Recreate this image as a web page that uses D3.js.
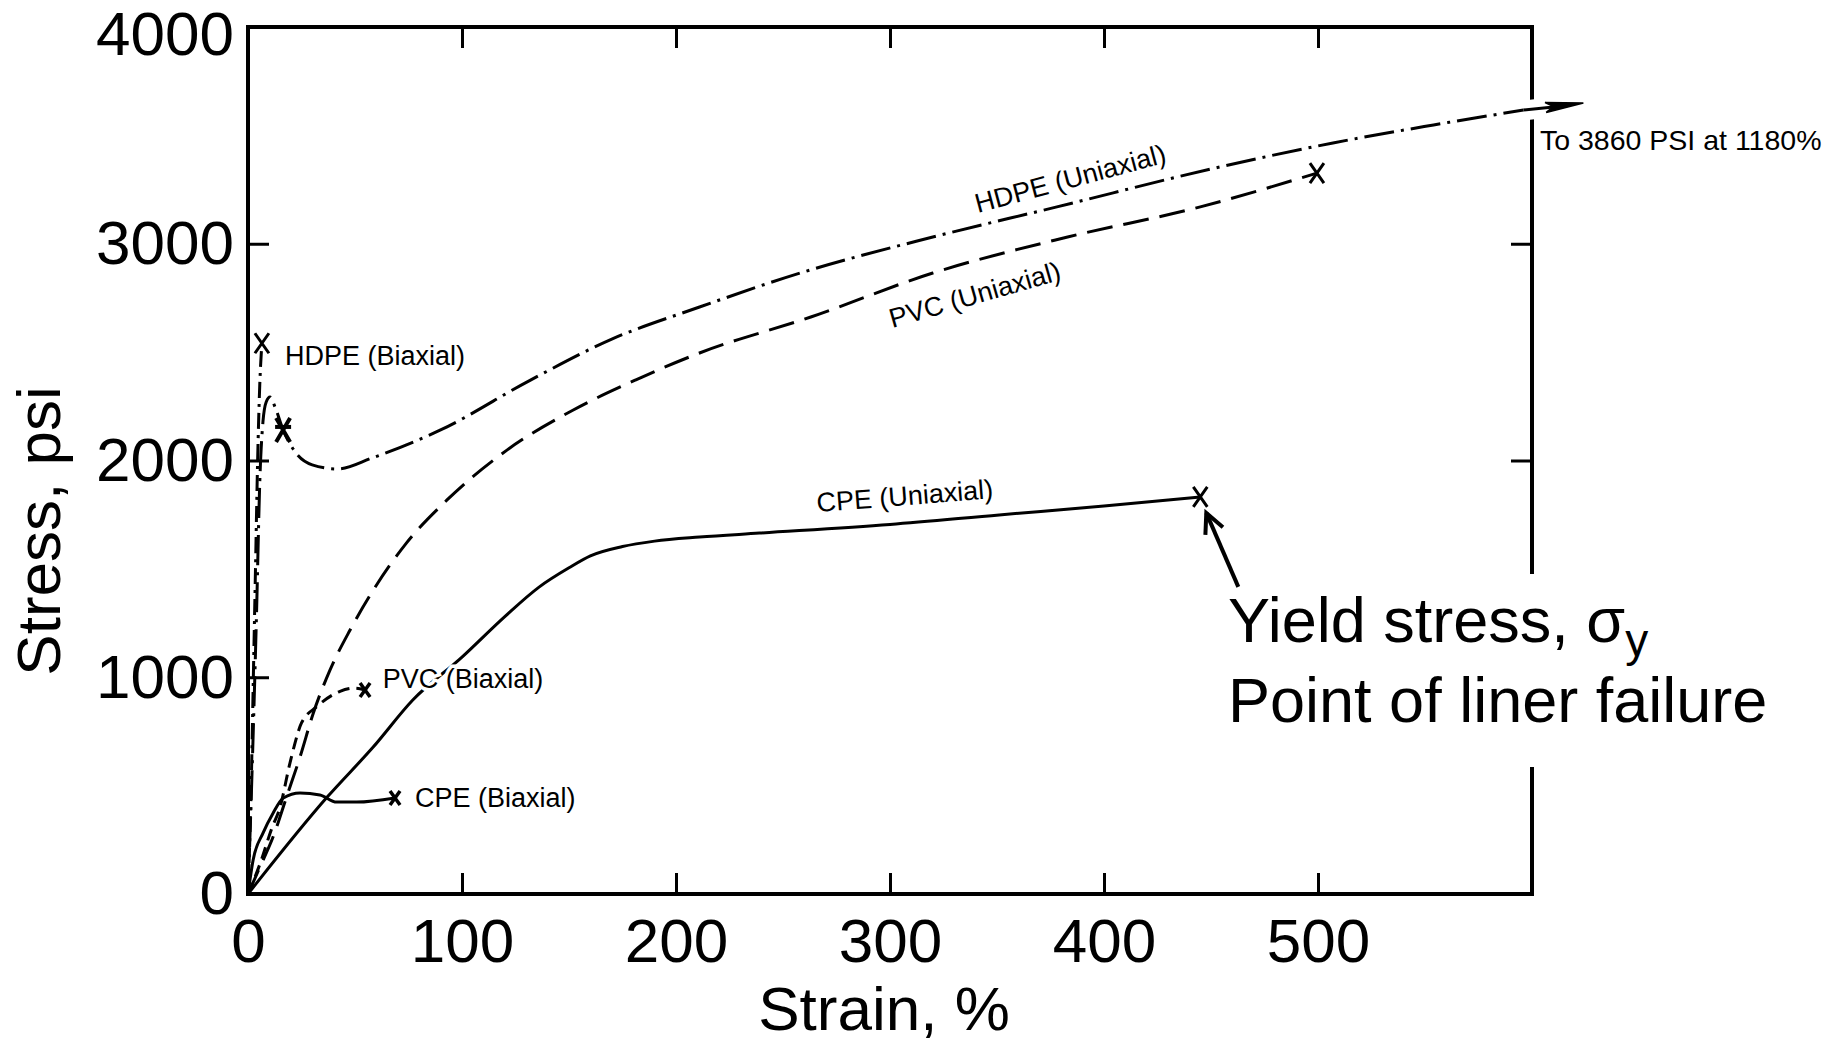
<!DOCTYPE html>
<html>
<head>
<meta charset="utf-8">
<script src="https://cdn.jsdelivr.net/npm/d3@7"></script>
<style>
  html, body { margin: 0; padding: 0; background: #fff; }
  svg text { font-family: "Liberation Sans", Arial, Helvetica, sans-serif; fill: #000; }
</style>
</head>
<body>
<div id="chart"></div>
<script>
const width = 1837;
const height = 1043;

// axis ticks
const strainTicks = [0, 100, 200, 300, 400, 500];
const stressTicks = [0, 1000, 2000, 3000, 4000];
const innerStrainTicks = [100, 200, 300, 400, 500];
const innerStressTicks = [1000, 2000, 3000];

// curves: [strain %, stress psi]
const hdpeUniaxial = [[0,0],[2,600],[4,1300],[5.5,1900],[7,2180],[8.5,2270],[10.3,2293],[12.5,2250],[16.4,2141],[22,2040],[30,1980],[41.6,1961],[58,2012],[90,2141],[132,2371],[170,2560],[211,2708],[258,2865],[320,3031],[378,3170],[450,3345],[507,3465],[554,3548],[596,3617]];
const hdpeUniaxialTail = [[596,3617],[624,3649]];   // continues "to 3860 psi at 1180%"
const hdpeBiaxial = [[0,0],[1.5,500],[2.5,1000],[3.5,1500],[4.5,2000],[5.5,2350],[6.5,2541]];
const pvcUniaxial = [[0,0],[5.6,125],[11.7,263],[18,447],[24.3,632],[30.5,834],[38.3,1033],[47.7,1218],[58.6,1403],[74,1619],[93,1818],[121,2048],[152,2233],[181,2371],[211,2496],[263,2662],[320,2865],[383,3031],[445,3170],[499.5,3326]];
const pvcBiaxial = [[0,0],[6,150],[11,300],[15,401],[19.6,604],[25,789],[32,863],[43,935],[50,950],[54.7,941]];
const cpeUniaxial = [[0,0],[37,447],[58.5,678],[77,895],[100,1093],[120,1280],[136,1416],[150,1505],[160,1560],[175,1603],[190,1628],[211,1647],[239,1665],[300,1705],[351,1749],[400,1790],[445,1832]];
const cpeBiaxial = [[0,0],[2.4,157],[7,281],[11.7,373],[16.5,443],[24.3,466],[33.6,457],[41.4,424],[50.8,424],[68.7,443]];

// failure points
const failurePoints = [[6.5,2541],[445,1832],[499.5,3326]];
const smallFailurePoints = [[54.7,941],[68.7,443]];
const hdpeYieldPoint = [16.4,2141];

const curveLabels = [
  {text: "HDPE (Biaxial)",  s: 17.3,  v: 2441, angle: 0},
  {text: "PVC (Biaxial)",   s: 63,    v: 950,  angle: 0},
  {text: "CPE (Biaxial)",   s: 78,    v: 401,  angle: 0},
  {text: "CPE (Uniaxial)",  s: 266,   v: 1762, angle: -4.5},
  {text: "PVC (Uniaxial)",  s: 301,   v: 2611, angle: -16},
  {text: "HDPE (Uniaxial)", s: 341,   v: 3142, angle: -15}
];

const svg = d3.select("#chart")
  .append("svg")
  .attr("width", width)
  .attr("height", height);

svg.append("rect").attr("width", width).attr("height", height).attr("fill", "#fff");

const x = d3.scaleLinear().domain([0, 600]).range([248, 1532]);
const y = d3.scaleLinear().domain([0, 4000]).range([894, 27]);

// frame
svg.append("rect")
  .attr("x", x(0)).attr("y", y(4000))
  .attr("width", x(600) - x(0)).attr("height", y(0) - y(4000))
  .attr("fill", "none").attr("stroke", "#000").attr("stroke-width", 4);

function styleAxis(g) {
  g.select(".domain").remove();
  g.selectAll(".tick line").attr("stroke", "#000").attr("stroke-width", 3);
  g.selectAll(".tick text")
    .attr("font-size", 62)
    .attr("font-family", "'Liberation Sans', Arial, sans-serif")
    .attr("fill", "#000");
}

svg.append("g")
  .attr("transform", "translate(0," + y(0) + ")")
  .call(d3.axisBottom(x).tickValues(strainTicks).tickSize(-21).tickSizeOuter(0).tickPadding(24).tickFormat(d3.format("d")))
  .call(styleAxis);

svg.append("g")
  .attr("transform", "translate(" + x(0) + ",0)")
  .call(d3.axisLeft(y).tickValues(stressTicks).tickSize(-21).tickSizeOuter(0).tickPadding(14).tickFormat(d3.format("d")))
  .call(styleAxis)
  .call(g => g.selectAll(".tick text").filter(d => d === 4000).attr("transform", "translate(0,8)"));

svg.append("g")
  .attr("transform", "translate(0," + y(4000) + ")")
  .call(d3.axisTop(x).tickValues(innerStrainTicks).tickSize(-21).tickSizeOuter(0).tickFormat(""))
  .call(styleAxis);

svg.append("g")
  .attr("transform", "translate(" + x(600) + ",0)")
  .call(d3.axisRight(y).tickValues(innerStressTicks).tickSize(-21).tickSizeOuter(0).tickFormat(""))
  .call(styleAxis);

// axis titles
svg.append("text")
  .attr("x", 884)
  .attr("y", 1030)
  .attr("text-anchor", "middle")
  .attr("font-size", 62)
  .text("Strain, %");

svg.append("text")
  .attr("transform", "translate(60,531) rotate(-90)")
  .attr("text-anchor", "middle")
  .attr("font-size", 62)
  .text("Stress, psi");

const line = d3.line()
  .x(d => x(d[0]))
  .y(d => y(d[1]))
  .curve(d3.curveMonotoneX);

// white gap where the HDPE curve leaves the frame
svg.append("path")
  .attr("d", line([[588,3605],[612,3634]]))
  .attr("fill", "none").attr("stroke", "#fff").attr("stroke-width", 20);

const curves = [
  {data: cpeUniaxial,  dash: null},
  {data: cpeBiaxial,   dash: null},
  {data: pvcUniaxial,  dash: "26,11"},
  {data: pvcBiaxial,   dash: "12,7"},
  {data: hdpeBiaxial,  dash: "16,6,3,6"},
  {data: hdpeUniaxial, dash: "30,7,3,7"}
];

svg.selectAll("path.curve")
  .data(curves)
  .enter()
  .append("path")
  .attr("class", "curve")
  .attr("d", d => line(d.data))
  .attr("fill", "none")
  .attr("stroke", "#000")
  .attr("stroke-width", 3)
  .attr("stroke-dasharray", d => d.dash);

// arrow continuing HDPE uniaxial
const t0 = hdpeUniaxialTail[0], t1 = hdpeUniaxialTail[1];
const p0 = [x(t0[0]), y(t0[1])], p1 = [x(t1[0]), y(t1[1])];
svg.append("line")
  .attr("x1", p0[0]).attr("y1", p0[1]).attr("x2", p1[0] - 20).attr("y2", p1[1] + 3)
  .attr("stroke", "#000").attr("stroke-width", 3);
{
  const dx = p1[0] - p0[0], dy = p1[1] - p0[1];
  const len = Math.hypot(dx, dy), ux = dx / len, uy = dy / len;
  const bx = p1[0] - ux * 38, by = p1[1] - uy * 38;
  svg.append("path")
    .attr("d", `M${p1[0]},${p1[1]} L${bx - uy * 5},${by + ux * 5} L${bx + 8 * ux},${by + 8 * uy} L${bx + uy * 5},${by - ux * 5} Z`)
    .attr("fill", "#000").attr("stroke", "#000").attr("stroke-width", 1.5);
}

svg.append("text")
  .attr("x", 1540).attr("y", 150)
  .attr("font-size", 28.5)
  .text("To 3860 PSI at 1180%");

// failure markers
function xMark(sel, w, h, sw) {
  sel.append("path")
    .attr("d", `M${-w},${-h} L${w},${h} M${-w},${h} L${w},${-h}`)
    .attr("stroke", "#000").attr("stroke-width", sw).attr("fill", "none");
}
failurePoints.forEach(p => {
  svg.append("g").attr("transform", `translate(${x(p[0])},${y(p[1])})`).call(xMark, 7, 10, 3);
});
smallFailurePoints.forEach(p => {
  svg.append("g").attr("transform", `translate(${x(p[0])},${y(p[1])})`).call(xMark, 5, 7, 3.5);
});
svg.append("g")
  .attr("transform", `translate(${x(hdpeYieldPoint[0])},${y(hdpeYieldPoint[1])})`)
  .call(xMark, 7, 12, 4)
  .append("path").attr("d", "M-8,-3 L8,-3").attr("stroke", "#000").attr("stroke-width", 4);

// curve labels (white halo so lines break behind the text)
svg.selectAll("text.curve-label")
  .data(curveLabels)
  .enter()
  .append("text")
  .attr("class", "curve-label")
  .attr("transform", d => `translate(${x(d.s)},${y(d.v)}) rotate(${d.angle})`)
  .attr("font-size", 27)
  .attr("stroke", "#fff")
  .attr("stroke-width", 7)
  .attr("paint-order", "stroke")
  .text(d => d.text);

// annotation box
svg.append("rect")
  .attr("x", 1222).attr("y", 574)
  .attr("width", 590).attr("height", 193)
  .attr("fill", "#fff");

const note = svg.append("text").attr("font-size", 63);
const l1 = note.append("tspan").attr("x", 1228).attr("y", 642).text("Yield stress, ");
l1.append("tspan").text("σ");
l1.append("tspan").attr("dy", 14).attr("font-size", 46).text("y");
note.append("tspan").attr("x", 1228).attr("y", 722).text("Point of liner failure");

// arrow to the CPE failure point
{
  const tip = [x(445) + 6, y(1832) + 16];
  const tail = [tip[0] + 32, tip[1] + 74];
  const ang = Math.atan2(tail[1] - tip[1], tail[0] - tip[0]);
  const a1 = ang + 0.45, a2 = ang - 0.45;
  svg.append("line")
    .attr("x1", tail[0]).attr("y1", tail[1]).attr("x2", tip[0]).attr("y2", tip[1])
    .attr("stroke", "#000").attr("stroke-width", 4);
  svg.append("path")
    .attr("d", `M${tip[0] + 22 * Math.cos(a1)},${tip[1] + 22 * Math.sin(a1)} L${tip[0]},${tip[1]} L${tip[0] + 22 * Math.cos(a2)},${tip[1] + 22 * Math.sin(a2)}`)
    .attr("stroke", "#000").attr("stroke-width", 4).attr("fill", "none");
}
</script>
</body>
</html>
